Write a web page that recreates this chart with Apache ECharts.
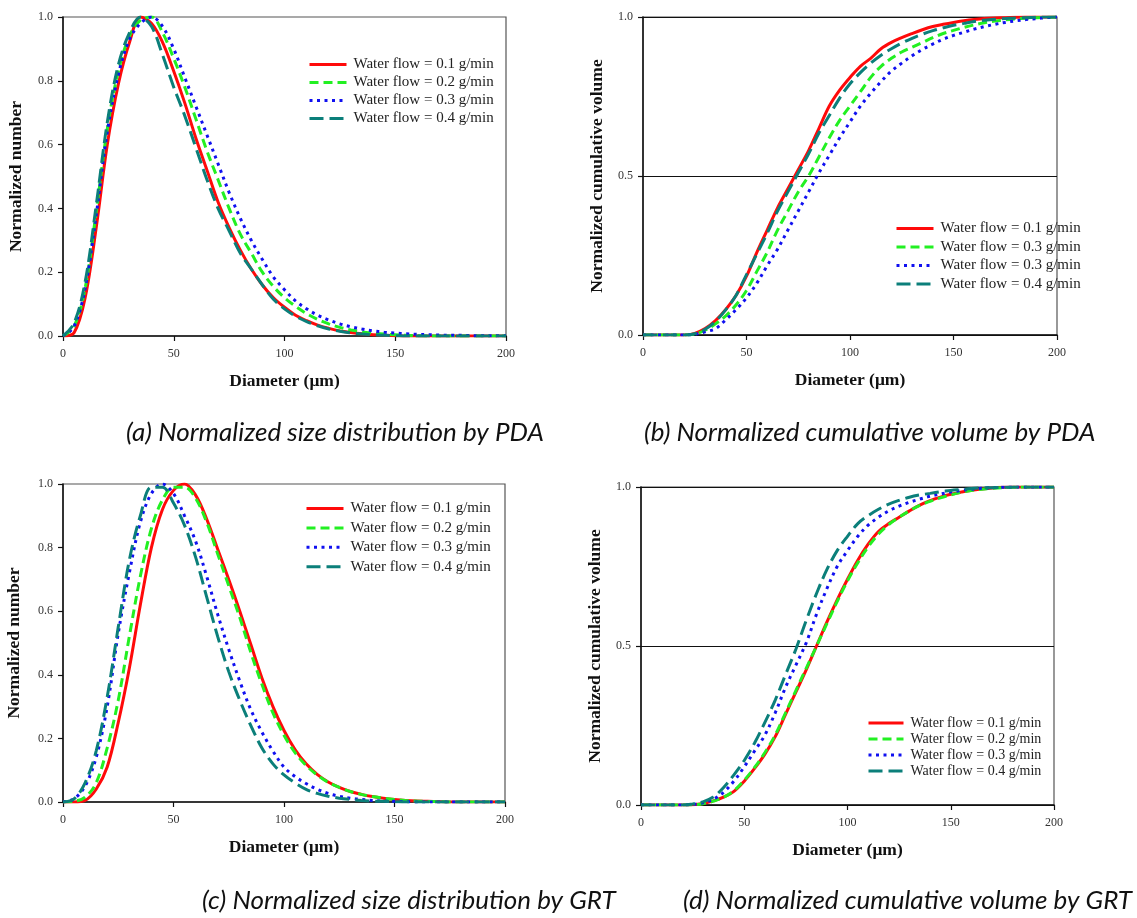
<!DOCTYPE html>
<html>
<head>
<meta charset="utf-8">
<script src="https://cdn.jsdelivr.net/npm/echarts@6/dist/echarts.min.js"></script>
<style>
  html, body { margin: 0; padding: 0; background: #fff; }
  #chart { width: 1137px; height: 918px; }
</style>
</head>
<body>
<div id="chart"></div>
<script>
// Droplet diameter sampling points (μm)
const diameters = [0, 5, 10, 15, 20, 25, 30, 35, 40, 45, 50, 55, 60, 65, 70, 75, 80, 85, 90, 95, 100,
  105, 110, 115, 120, 125, 130, 135, 140, 145, 150, 155, 160, 165, 170, 175, 180, 185, 190, 195, 200];

// (a) PDA normalized number distribution
const pdaNum01 = [0, 0.01, 0.12, 0.34, 0.6, 0.79, 0.92, 1.0, 0.98, 0.92, 0.83, 0.73, 0.62, 0.52, 0.42, 0.34, 0.27, 0.21, 0.16, 0.12, 0.09,
  0.065, 0.048, 0.034, 0.024, 0.016, 0.011, 0.007, 0.004, 0.002, 0.001, 0, 0, 0, 0, 0, 0, 0, 0, 0, 0];
const pdaNum02 = [0, 0.03, 0.15, 0.39, 0.65, 0.83, 0.94, 0.99, 1.0, 0.95, 0.87, 0.78, 0.68, 0.58, 0.49, 0.40, 0.32, 0.26, 0.2, 0.155, 0.12,
  0.093, 0.07, 0.052, 0.038, 0.027, 0.019, 0.013, 0.009, 0.006, 0.004, 0.002, 0.001, 0, 0, 0, 0, 0, 0, 0, 0];
const pdaNum03 = [0, 0.03, 0.15, 0.38, 0.64, 0.82, 0.93, 0.98, 1.0, 0.97, 0.9, 0.81, 0.72, 0.63, 0.54, 0.45, 0.37, 0.30, 0.24, 0.185, 0.145,
  0.11, 0.085, 0.065, 0.05, 0.038, 0.029, 0.022, 0.016, 0.012, 0.009, 0.007, 0.005, 0.004, 0.003, 0.002, 0.002, 0.001, 0.001, 0.001, 0.001];
const pdaNum04 = [0, 0.04, 0.17, 0.41, 0.67, 0.85, 0.95, 1.0, 0.97, 0.88, 0.78, 0.69, 0.59, 0.49, 0.40, 0.33, 0.26, 0.21, 0.16, 0.115, 0.085,
  0.062, 0.045, 0.032, 0.022, 0.015, 0.01, 0.006, 0.004, 0.002, 0.001, 0, 0, 0, 0, 0, 0, 0, 0, 0, 0];

// (b) PDA normalized cumulative volume
const pdaCum01 = [0, 0, 0, 0, 0, 0.005, 0.02, 0.045, 0.08, 0.125, 0.185, 0.26, 0.33, 0.4, 0.46, 0.52, 0.58, 0.65, 0.72, 0.77, 0.81,
  0.845, 0.87, 0.9, 0.92, 0.935, 0.948, 0.96, 0.97, 0.977, 0.983, 0.988, 0.992, 0.995, 0.997, 0.998, 0.999, 1, 1, 1, 1];
const pdaCum02 = [0, 0, 0, 0, 0, 0.003, 0.015, 0.035, 0.06, 0.095, 0.14, 0.2, 0.26, 0.33, 0.39, 0.45, 0.5, 0.56, 0.62, 0.675, 0.72,
  0.765, 0.81, 0.845, 0.87, 0.89, 0.905, 0.92, 0.935, 0.948, 0.958, 0.967, 0.975, 0.982, 0.987, 0.991, 0.994, 0.996, 0.998, 0.999, 1];
const pdaCum03 = [0, 0, 0, 0, 0, 0.002, 0.01, 0.02, 0.048, 0.08, 0.117, 0.163, 0.218, 0.27, 0.33, 0.39, 0.45, 0.51, 0.565, 0.62, 0.67,
  0.72, 0.76, 0.797, 0.83, 0.855, 0.878, 0.898, 0.915, 0.93, 0.942, 0.952, 0.962, 0.97, 0.977, 0.983, 0.988, 0.992, 0.995, 0.998, 1];
const pdaCum04 = [0, 0, 0, 0, 0, 0.004, 0.018, 0.043, 0.08, 0.125, 0.19, 0.255, 0.32, 0.39, 0.45, 0.51, 0.57, 0.635, 0.69, 0.745, 0.79,
  0.825, 0.855, 0.88, 0.9, 0.918, 0.933, 0.946, 0.957, 0.966, 0.974, 0.98, 0.986, 0.99, 0.993, 0.995, 0.997, 0.998, 0.999, 1, 1];

// (c) GRT normalized number distribution
const grtNum01 = [0, 0, 0.005, 0.04, 0.11, 0.25, 0.42, 0.62, 0.8, 0.92, 0.98, 1.0, 0.965, 0.89, 0.795, 0.7, 0.6, 0.495, 0.39, 0.3, 0.225,
  0.165, 0.12, 0.087, 0.063, 0.046, 0.033, 0.024, 0.017, 0.012, 0.008, 0.005, 0.003, 0.002, 0.001, 0, 0, 0, 0, 0, 0];
const grtNum02 = [0, 0.002, 0.015, 0.06, 0.17, 0.32, 0.52, 0.71, 0.86, 0.95, 0.99, 0.99, 0.955, 0.88, 0.78, 0.68, 0.58, 0.47, 0.37, 0.28, 0.21,
  0.155, 0.115, 0.085, 0.062, 0.046, 0.033, 0.024, 0.017, 0.012, 0.008, 0.005, 0.003, 0.002, 0.001, 0, 0, 0, 0, 0, 0];
const grtNum03 = [0, 0.01, 0.05, 0.14, 0.3, 0.53, 0.72, 0.88, 0.97, 1.0, 0.97, 0.9, 0.82, 0.71, 0.59, 0.48, 0.38, 0.29, 0.22, 0.16, 0.11,
  0.08, 0.058, 0.04, 0.027, 0.018, 0.012, 0.008, 0.005, 0.003, 0.002, 0.001, 0, 0, 0, 0, 0, 0, 0, 0, 0];
const grtNum04 = [0, 0.01, 0.06, 0.16, 0.33, 0.55, 0.76, 0.9, 0.99, 0.99, 0.94, 0.87, 0.77, 0.645, 0.52, 0.41, 0.32, 0.24, 0.17, 0.12, 0.085,
  0.06, 0.04, 0.027, 0.018, 0.012, 0.008, 0.005, 0.003, 0.002, 0.001, 0, 0, 0, 0, 0, 0, 0, 0, 0, 0];

// (d) GRT normalized cumulative volume
const grtCum01 = [0, 0, 0, 0, 0, 0.001, 0.005, 0.013, 0.025, 0.043, 0.075, 0.115, 0.16, 0.215, 0.285, 0.355, 0.425, 0.5, 0.575, 0.645, 0.71,
  0.77, 0.82, 0.86, 0.885, 0.905, 0.925, 0.943, 0.957, 0.968, 0.977, 0.984, 0.99, 0.994, 0.997, 0.999, 1, 1, 1, 1, 1];
const grtCum02 = [0, 0, 0, 0, 0, 0.001, 0.004, 0.012, 0.024, 0.045, 0.078, 0.118, 0.165, 0.22, 0.29, 0.36, 0.43, 0.5, 0.57, 0.64, 0.705,
  0.762, 0.812, 0.852, 0.882, 0.905, 0.925, 0.942, 0.955, 0.966, 0.975, 0.983, 0.989, 0.993, 0.996, 0.998, 0.999, 1, 1, 1, 1];
const grtCum03 = [0, 0, 0, 0, 0, 0.002, 0.007, 0.018, 0.04, 0.075, 0.12, 0.17, 0.22, 0.29, 0.37, 0.44, 0.51, 0.6, 0.68, 0.75, 0.8,
  0.845, 0.88, 0.905, 0.925, 0.94, 0.952, 0.962, 0.971, 0.978, 0.984, 0.989, 0.993, 0.996, 0.998, 0.999, 1, 1, 1, 1, 1];
const grtCum04 = [0, 0, 0, 0, 0, 0.003, 0.01, 0.025, 0.055, 0.095, 0.14, 0.195, 0.26, 0.33, 0.41, 0.49, 0.58, 0.665, 0.74, 0.8, 0.845,
  0.885, 0.91, 0.93, 0.946, 0.958, 0.968, 0.975, 0.98, 0.985, 0.989, 0.992, 0.995, 0.997, 0.998, 0.999, 1, 1, 1, 1, 1];

// Legend texts for each panel
const legendA = ['Water flow = 0.1 g/min', 'Water flow = 0.2 g/min', 'Water flow = 0.3 g/min', 'Water flow = 0.4 g/min'];
const legendB = ['Water flow = 0.1 g/min', 'Water flow = 0.3 g/min', 'Water flow = 0.3 g/min', 'Water flow = 0.4 g/min'];
const legendC = ['Water flow = 0.1 g/min', 'Water flow = 0.2 g/min', 'Water flow = 0.3 g/min', 'Water flow = 0.4 g/min'];
const legendD = ['Water flow = 0.1 g/min', 'Water flow = 0.2 g/min', 'Water flow = 0.3 g/min', 'Water flow = 0.4 g/min'];

const captions = [
  '(a) Normalized size distribution by PDA',
  '(b) Normalized cumulative volume by PDA',
  '(c) Normalized size distribution by GRT',
  '(d) Normalized cumulative volume by GRT'
];
const numberTicks = [0, 0.2, 0.4, 0.6, 0.8, 1.0];
const cumulativeTicks = [0, 0.5, 1.0];

const SERIF = '"Liberation Serif", "DejaVu Serif", serif';

// Line styles per water flow rate
const styles = [
  { color: '#ff0a0a', type: 'solid' },
  { color: '#22f022', type: [9, 5] },
  { color: '#1010f0', type: [3, 4.5] },
  { color: '#0b7f7a', type: [14, 6] }
];

const panels = [
  { grid: { left: 63, top: 17, width: 443, height: 319 }, data: [pdaNum01, pdaNum02, pdaNum03, pdaNum04],
    legend: legendA, yName: 'Normalized number', ticks: numberTicks, yGap: 38,
    legendPos: { left: 303, top: 52, itemWidth: 37, itemGap: 3, fontSize: 15 } },
  { grid: { left: 643, top: 17, width: 414, height: 318 }, data: [pdaCum01, pdaCum02, pdaCum03, pdaCum04],
    legend: legendB, yName: 'Normalized cumulative volume', ticks: cumulativeTicks, yGap: 37,
    legendPos: { left: 890, top: 216, itemWidth: 37, itemGap: 3.5, fontSize: 15 } },
  { grid: { left: 63, top: 484, width: 442, height: 318 }, data: [grtNum01, grtNum02, grtNum03, grtNum04],
    legend: legendC, yName: 'Normalized number', ticks: numberTicks, yGap: 40,
    legendPos: { left: 300, top: 496, itemWidth: 37, itemGap: 4.4, fontSize: 15 } },
  { grid: { left: 641, top: 487, width: 413, height: 318 }, data: [grtCum01, grtCum02, grtCum03, grtCum04],
    legend: legendD, yName: 'Normalized cumulative volume', ticks: cumulativeTicks, yGap: 37,
    legendPos: { left: 862, top: 711, itemWidth: 35, itemGap: 2, fontSize: 14 } }
];

const option = {
  animation: false,
  backgroundColor: '#ffffff',
  title: [
    { left: 126, top: 420 },
    { left: 644, top: 420 },
    { left: 202, top: 888 },
    { left: 683, top: 888 }
  ].map((p, i) => ({
    text: captions[i], left: p.left, top: p.top, padding: 0,
    textStyle: { fontFamily: 'Lato, "Open Sans", sans-serif', fontStyle: 'italic', fontWeight: 'normal', fontSize: 26, color: '#111' }
  })),
  grid: [], xAxis: [], yAxis: [], legend: [], series: []
};

panels.forEach((p, pi) => {
  option.grid.push(Object.assign({ show: true, borderColor: '#555', borderWidth: 1.2, backgroundColor: 'transparent' }, p.grid));
  option.xAxis.push({
    gridIndex: pi, type: 'value', min: 0, max: 200, interval: 50,
    name: 'Diameter (μm)', nameLocation: 'middle', nameGap: 36,
    nameTextStyle: { fontFamily: SERIF, fontWeight: 'bold', fontSize: 17.5, color: '#111' },
    axisLine: { show: true, onZero: false, lineStyle: { color: '#111', width: 1.5 } },
    axisTick: { show: true, length: 5, lineStyle: { color: '#111', width: 1.2 } },
    axisLabel: { margin: 12, fontFamily: SERIF, fontSize: 12, color: '#333' },
    splitLine: { show: false }
  });
  const cum = p.ticks.length === 3;
  option.yAxis.push({
    gridIndex: pi, type: 'value', min: 0, max: 1, interval: p.ticks[1],
    name: p.yName, nameLocation: 'middle', nameGap: p.yGap,
    nameTextStyle: { fontFamily: SERIF, fontWeight: 'bold', fontSize: 17.5, color: '#111' },
    axisLine: { show: true, onZero: false, lineStyle: { color: '#111', width: 1.5 } },
    axisTick: { show: true, length: 5, lineStyle: { color: '#111', width: 1.2 } },
    axisLabel: { margin: 10, fontFamily: SERIF, fontSize: 12, color: '#333', formatter: v => v.toFixed(1) },
    splitLine: { show: cum, lineStyle: { color: '#111', width: 1 } }
  });
  const names = p.data.map((_, si) => 'p' + pi + 's' + si);
  option.legend.push({
    orient: 'vertical', left: p.legendPos.left, top: p.legendPos.top,
    itemWidth: p.legendPos.itemWidth, itemHeight: 14, itemGap: p.legendPos.itemGap,
    data: names, selectedMode: false,
    formatter: name => p.legend[names.indexOf(name)],
    lineStyle: { width: 3 },
    itemStyle: { opacity: 0 },
    textStyle: { fontFamily: SERIF, fontSize: p.legendPos.fontSize, lineHeight: 14, color: '#222', padding: [0, 0, 0, 2] }
  });
  p.data.forEach((vals, si) => {
    option.series.push({
      name: names[si], type: 'line', xAxisIndex: pi, yAxisIndex: pi,
      data: diameters.map((d, k) => [d, vals[k]]),
      smooth: 0.35, symbol: 'none', showSymbol: false,
      lineStyle: { color: styles[si].color, type: styles[si].type, width: 3 },
      itemStyle: { color: styles[si].color },
      clip: true
    });
  });
});

const chart = echarts.init(document.getElementById('chart'), null, { renderer: 'canvas' });
chart.setOption(option);
</script>
</body>
</html>
